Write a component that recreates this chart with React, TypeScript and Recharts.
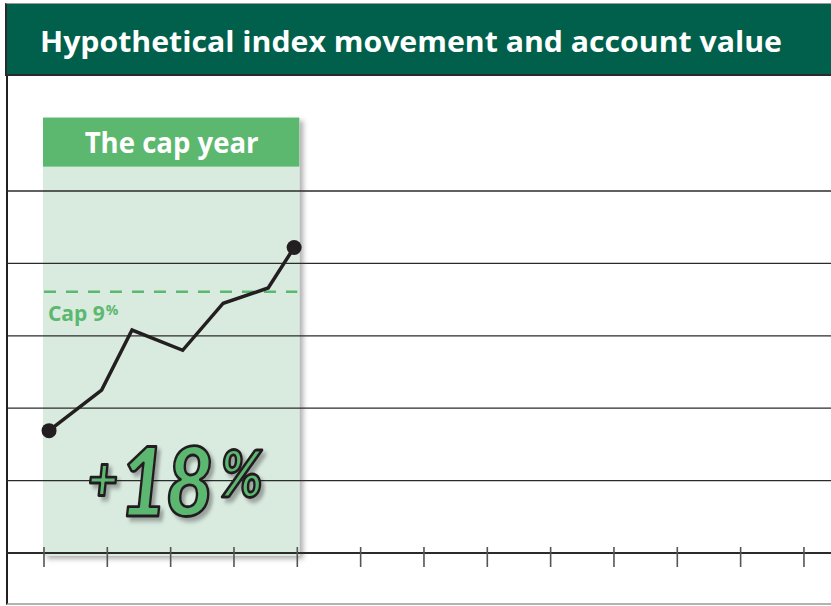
import {
  Line,
  LineChart,
  ReferenceArea,
  ReferenceDot,
  ReferenceLine,
  XAxis,
  YAxis,
} from "recharts";

const TITLE = "Hypothetical index movement and account value";
const PANEL_TITLE = "The cap year";
const CAP_LABEL = "Cap 9";
const RESULT_LABEL = "18";

// one tick per quarter, three years
const quarterTicks = [0, 1, 2, 3, 4, 5, 6, 7, 8, 9, 10, 11, 12];
const gridLevels = [1, 2, 3, 4, 5];
const indexX = [0.08, 0.91, 1.39, 2.19, 2.83, 3.54, 3.95];
const indexY = [1.69, 2.25, 3.08, 2.8, 3.45, 3.66, 4.22];
const capLevel = 3.61;
const capYear = [0, 4];
const resultAt = [2.06, 0.51];

const DARK_GREEN = "#00604b";
const GREEN = "#5cb86f";
const PALE = "#d9eadf";
const INK = "#231f20";
const FONT = "'Open Sans', 'DejaVu Sans', sans-serif";

const data = indexX.map((x, i) => ({ x, value: indexY[i] }));
const lastIdx = data.length - 1;

function QuarterTick(props: any) {
  const { x, y } = props;
  return <line x1={x} x2={x} y1={y - 6} y2={y + 14} stroke="#555" strokeWidth={1.6} />;
}

function CapYearPanel(props: any) {
  const { x, y, width, height } = props;
  return (
    <g>
      <rect
        x={x - 1}
        y={y - 1}
        width={width + 3}
        height={height + 4}
        fill={PALE}
        filter="url(#panelShadow)"
      />
      <rect x={x - 1} y={y - 1} width={width + 3} height={49} fill={GREEN} />
      <text
        x={x + width / 2 + 1}
        y={y + 34}
        textAnchor="middle"
        fill="#fff"
        fontFamily={FONT}
        fontWeight={700}
        fontSize={29}
        textLength={174}
        lengthAdjust="spacingAndGlyphs"
      >
        {PANEL_TITLE}
      </text>
    </g>
  );
}

function CapLabel(props: any) {
  const { viewBox } = props;
  return (
    <text
      x={viewBox.x + 4}
      y={viewBox.y + 29}
      fill={GREEN}
      fontFamily={FONT}
      fontWeight={700}
      fontSize={21}
    >
      {CAP_LABEL}
      <tspan fontSize={14} dx={1} dy={-6}>
        %
      </tspan>
    </text>
  );
}

function ResultLabel(props: any) {
  const { cx, cy } = props;
  return (
    <g transform={`translate(${cx},${cy}) scale(0.86,1)`} filter="url(#textShadow)">
      <text
        x={0}
        y={0}
        textAnchor="middle"
        fill={GREEN}
        stroke={INK}
        strokeWidth={2.8}
        strokeLinejoin="round"
        fontFamily="Lato, 'Open Sans', sans-serif"
        fontWeight={900}
        fontStyle="italic"
        fontSize={96}
        letterSpacing={-2}
      >
        <tspan fontSize={60} dy={-15}>+</tspan>
        <tspan dx={4} dy={15}>{RESULT_LABEL}</tspan>
        <tspan fontSize={64} dx={10} dy={-19}>%</tspan>
      </text>
    </g>
  );
}

function EndDot(props: any) {
  const { cx, cy, index } = props;
  if (index !== 0 && index !== lastIdx) return <g key={index} />;
  return <circle key={index} cx={cx} cy={cy} r={7.5} fill={INK} />;
}

export default function App() {
  return (
    <div
      style={{
        position: "absolute",
        left: 0,
        top: 0,
        width: 831,
        height: 606,
        background: "#fff",
        overflow: "hidden",
      }}
    >
      <div
        style={{
          position: "absolute",
          left: 6,
          top: 74,
          width: 825,
          height: 529,
          borderLeft: `2px solid ${INK}`,
          borderBottom: "2px solid #b3b3b3",
        }}
      />
      <LineChart
        width={831}
        height={606}
        data={data}
        margin={{ top: 118.6, right: 0, bottom: 23, left: 7 }}
      >
        <defs>
          <filter id="panelShadow" x="-10%" y="-10%" width="130%" height="130%">
            <feDropShadow dx={4} dy={3} stdDeviation={2.5} floodColor="#000" floodOpacity={0.3} />
          </filter>
          <filter id="textShadow" x="-10%" y="-10%" width="130%" height="130%">
            <feDropShadow dx={4} dy={4} stdDeviation={2} floodColor="#000" floodOpacity={0.3} />
          </filter>
        </defs>
        <XAxis
          type="number"
          dataKey="x"
          domain={[-0.584, 12.427]}
          ticks={quarterTicks}
          interval={0}
          allowDataOverflow
          axisLine={false}
          tickLine={false}
          tickSize={0}
          tickMargin={0}
          tick={<QuarterTick />}
        />
        <YAxis type="number" domain={[0, 6]} hide allowDataOverflow />
        <ReferenceArea
          x1={capYear[0]}
          x2={capYear[1]}
          y1={0}
          y2={6}
          shape={<CapYearPanel />}
        />
        {gridLevels.map((v) => (
          <ReferenceLine key={v} y={v} stroke="#2b2b2b" strokeWidth={1.3} />
        ))}
        <ReferenceLine y={0} stroke="#2b2b2b" strokeWidth={2} />
        <ReferenceLine
          segment={[
            { x: capYear[0], y: capLevel },
            { x: capYear[1], y: capLevel },
          ]}
          stroke={GREEN}
          strokeWidth={2.5}
          strokeDasharray="12 10"
          label={<CapLabel />}
        />
        <Line
          type="linear"
          dataKey="value"
          stroke={INK}
          strokeWidth={3.5}
          strokeLinejoin="miter"
          dot={<EndDot />}
          activeDot={false}
          isAnimationActive={false}
        />
        <ReferenceDot
          x={resultAt[0]}
          y={resultAt[1]}
          r={0}
          shape={<ResultLabel />}
        />
      </LineChart>
      <div
        style={{
          position: "absolute",
          left: 5,
          top: 3,
          width: 826,
          height: 70,
          background: DARK_GREEN,
          borderTop: "1px solid #9a9a9a",
          borderLeft: "2px solid #2a2a2a",
          borderBottom: "2px solid #2a2a2a",
        }}
      >
        <svg width={826} height={70} style={{ display: "block" }}>
          <text
            x={33}
            y={48}
            fill="#fff"
            fontFamily={FONT}
            fontWeight={700}
            fontSize={28}
            textLength={742}
            lengthAdjust="spacingAndGlyphs"
          >
            {TITLE}
          </text>
        </svg>
      </div>
    </div>
  );
}
